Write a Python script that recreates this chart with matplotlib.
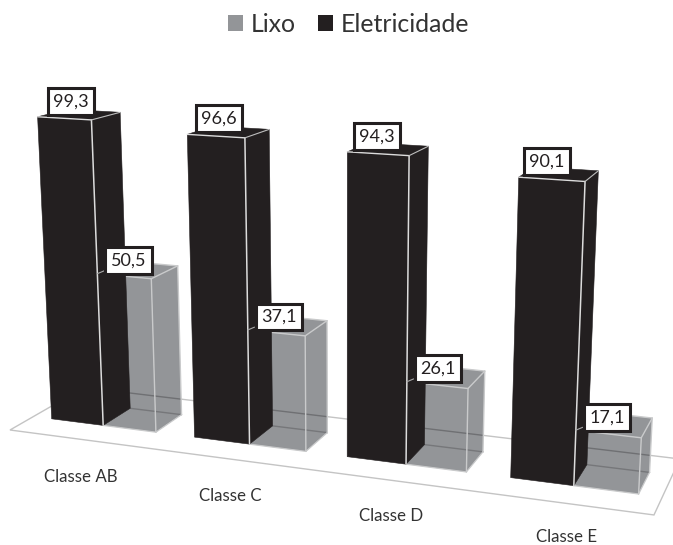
#!/usr/bin/env python3
"""Lixo / Eletricidade by social class, drawn as a 3D bar chart in perspective."""
import numpy as np
import matplotlib
matplotlib.use('Agg')
import matplotlib.pyplot as plt
from matplotlib.patches import Patch, Polygon

classes = ['Classe AB', 'Classe C', 'Classe D', 'Classe E']
lixo = [50.5, 37.1, 26.1, 17.1]
eletricidade = [99.3, 96.6, 94.3, 90.1]

BLACK = '#231f20'
GREY = '#939598'
EDGE = '#c9cacb'

plt.rcParams['font.family'] = ['Lato', 'DejaVu Sans']

# floor of the chart, unit square -> picture pixels (homography)
A, B, C = 558.3, 81.2, 10.0
D, E, F = 17.5, -9.1, 430.0
G, H = -0.131, 0.0862
# vertical lines meet here, below the picture
VP = np.array([344.0, 6700.0])
K = 4.72e-4

V0, V1 = 0.30, 0.69
BAR_W = 0.092


def project(u, v, z=0.0):
    w = G * u + H * v + 1
    base = np.array([(A * u + B * v + C) / w, (D * u + E * v + F) / w])
    t = -K * z / (w - K * z)
    return base + t * (VP - base)


def faces(u0, u1, z):
    front = [project(u0, V0), project(u1, V0), project(u1, V0, z), project(u0, V0, z)]
    side = [project(u1, V0), project(u1, V1), project(u1, V1, z), project(u1, V0, z)]
    top = [project(u0, V0, z), project(u1, V0, z), project(u1, V1, z), project(u0, V1, z)]
    return front, side, top


def line(ax, p, q, color, lw=1.0, zorder=3):
    return ax.plot([p[0], q[0]], [p[1], q[1]], color=color, lw=lw, zorder=zorder,
                   solid_capstyle='round')[0]


fig = plt.figure(figsize=(6.73, 5.45), dpi=100)
ax = fig.add_axes([0, 0, 1, 1])
ax.set_xlim(0, 673)
ax.set_ylim(545, 0)
ax.axis('off')

# floor
corners = [project(0, 0), project(1, 0), project(1, 1), project(0, 1)]
ax.add_patch(Polygon(corners, closed=True, fc='white', ec='#c4c4c4', lw=1.0, zorder=1, clip_on=True))

for i, name in enumerate(classes):
    center = (i + 0.5) / 4
    u_black = center - BAR_W
    u_grey = center

    # grey bar first, the black one stands in front of it
    front, side, top = faces(u_grey, u_grey + BAR_W, lixo[i])
    patches = []
    for poly in (front, side, top):
        p = Polygon(poly, closed=True, fc=GREY, ec='none', zorder=2)
        ax.add_patch(p)
        patches.append(p)
    # floor and hidden edges seen through the bar
    for p in patches[:2]:
        seen = line(ax, project(0, 1), project(1, 1), '#6f7073', 1.0, 2.5)
        seen.set_clip_path(p)
    line(ax, project(u_grey, V1), project(u_grey + BAR_W, V1), '#76777a', 1.0, 2.5)
    line(ax, project(u_grey + BAR_W, V1), project(u_grey + BAR_W, V0), EDGE, 0.9, 2.6)
    line(ax, project(u_grey, V0), project(u_grey + BAR_W, V0), EDGE, 0.9, 2.6)
    line(ax, front[1], front[2], EDGE, 1.0, 2.6)
    line(ax, side[1], side[2], EDGE, 1.0, 2.6)
    line(ax, front[3], front[2], EDGE, 1.0, 2.6)
    line(ax, top[1], top[2], EDGE, 1.0, 2.6)
    line(ax, top[2], top[3], EDGE, 1.0, 2.6)

    front, side, top = faces(u_black, u_black + BAR_W, eletricidade[i])
    for poly in (front, side, top):
        ax.add_patch(Polygon(poly, closed=True, fc=BLACK, ec=BLACK, lw=0.4, zorder=3))
    line(ax, front[1], front[2], '#dcdcdc', 1.1, 4)
    line(ax, front[3], front[2], '#dcdcdc', 1.0, 4)
    line(ax, top[1], top[2], '#bcbcbc', 0.8, 4)

    # value boxes
    box = dict(boxstyle='square,pad=0.3', fc='white', ec=BLACK, lw=2.2)
    tl = project(u_black, V0, eletricidade[i])
    ax.text(tl[0] + 33.5 - 1.8 * i, tl[1] - 15.5, f'{eletricidade[i]:.1f}'.replace('.', ','),
            fontsize=13, color=BLACK, ha='center', va='center', bbox=box, zorder=6)

    tip = project(u_grey, V0, lixo[i])
    ax.annotate(f'{lixo[i]:.1f}'.replace('.', ','), xy=tip, xytext=(tip[0] + 31, tip[1] - 13),
                fontsize=13, color=BLACK, ha='center', va='center', bbox=box, zorder=6,
                arrowprops=dict(arrowstyle='-', color='#a8a8a8', lw=0.8, shrinkA=0, shrinkB=0))

    pos = project(center, 0)
    ax.text(pos[0] + 1.3 * (i == 3) * 3, pos[1] + 38 - i * 1.2, name, fontsize=12.2, color='#333333',
            ha='center', va='center', zorder=6)

handles = [Patch(fc=GREY, ec='none', label='Lixo'), Patch(fc=BLACK, ec='none', label='Eletricidade')]
ax.legend(handles=handles, ncol=2, loc='upper center', bbox_to_anchor=(0.5178, 1.0), frameon=False,
          fontsize=17.9, handlelength=0.6, handleheight=0.6, handletextpad=0.3,
          columnspacing=0.9, labelcolor='#333333', borderaxespad=0.12)

fig.savefig('out.png', dpi=100)
